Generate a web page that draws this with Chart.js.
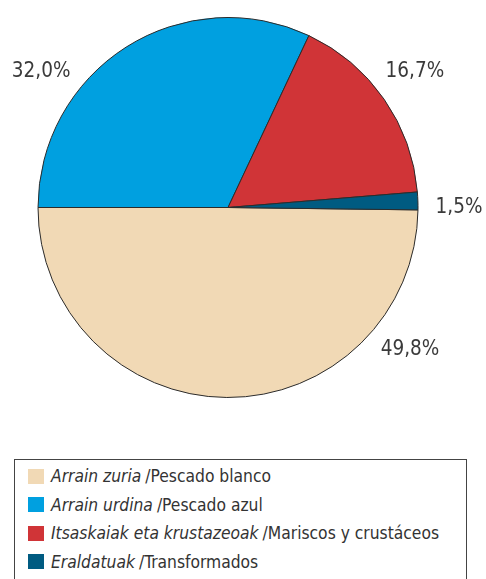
<!DOCTYPE html>
<html>
<head>
<meta charset="utf-8">
<script src="https://cdn.jsdelivr.net/npm/chart.js@4/dist/chart.umd.min.js"></script>
<style>
  html, body { margin: 0; padding: 0; background: #fff; }
  body { width: 486px; height: 579px; position: relative; overflow: hidden; }
  #chartBox { position: absolute; left: 0; top: 0; width: 486px; height: 440px; }
  #legend {
    position: absolute; left: 14px; top: 459px; width: 453px; height: 140px;
    border: 1px solid #444; box-sizing: border-box; padding: 2px 0 0 13px;
    font-family: "Liberation Sans Narrow", "DejaVu Sans Condensed", "Roboto", sans-serif;
    font-size: 17.3px; color: #333;
  }
  #legend .row { height: 28.5px; display: flex; align-items: center; white-space: nowrap; }
  #legend .sw { width: 16px; height: 15px; margin-right: 7px; flex: none; }
  #legend i { margin-right: 4px; }
</style>
</head>
<body>
<div id="chartBox"><canvas id="pie"></canvas></div>
<div id="legend"></div>
<script>
  const namesEu = ["Arrain zuria", "Arrain urdina", "Itsaskaiak eta krustazeoak", "Eraldatuak"];
  const namesEs = ["Pescado blanco", "Pescado azul", "Mariscos y crustáceos", "Transformados"];
  const shares = [49.8, 32.0, 16.7, 1.5];

  const colors = {
    white: "#f1d9b5",
    blue: "#00a0e0",
    red: "#d03437",
    dark: "#005b81"
  };

  // outside labels: angle (deg, clockwise from top) where each value sits
  const pctLabels = {
    id: "pctLabels",
    afterDatasetsDraw(chart, args, opts) {
      const ctx = chart.ctx;
      const arcs = chart.getDatasetMeta(0).data;
      ctx.save();
      ctx.font = opts.font;
      ctx.fillStyle = opts.color;
      ctx.textAlign = "center";
      ctx.textBaseline = "middle";
      arcs.forEach((arc, i) => {
        const a = opts.angles[i] * Math.PI / 180;
        const d = arc.outerRadius + opts.gap;
        const x = arc.x + d * Math.sin(a);
        const y = arc.y - d * Math.cos(a);
        const txt = chart.data.datasets[0].data[i].toFixed(1).replace(".", ",") + "%";
        ctx.fillText(txt, x, y);
      });
      ctx.restore();
    }
  };

  const chart = new Chart(document.getElementById("pie"), {
    type: "pie",
    data: {
      labels: namesEs,
      datasets: [{
        data: shares,
        backgroundColor: [colors.white, colors.blue, colors.red, colors.dark],
        borderColor: "#2b2b2b",
        borderWidth: 1
      }]
    },
    options: {
      responsive: true,
      maintainAspectRatio: false,
      animation: false,
      rotation: 90 + (50 - shares[0]) * 3.6,
      layout: { padding: { left: 37, right: 67, top: 17, bottom: 42 } },
      plugins: {
        legend: { display: false },
        tooltip: { enabled: false },
        pctLabels: {
          angles: [128, -54, 54, 90],
          gap: 41,
          color: "#3a3a3a",
          font: '20.5px "Liberation Sans Narrow", "DejaVu Sans Condensed", sans-serif'
        }
      }
    },
    plugins: [pctLabels]
  });

  // legend: Basque name in italics, Spanish name upright
  const legend = document.getElementById("legend");
  chart.data.labels.forEach((es, i) => {
    const row = document.createElement("div");
    row.className = "row";
    const sw = document.createElement("span");
    sw.className = "sw";
    sw.style.background = chart.data.datasets[0].backgroundColor[i];
    const eu = document.createElement("i");
    eu.textContent = namesEu[i];
    row.appendChild(sw);
    row.appendChild(eu);
    row.appendChild(document.createTextNode("/" + es));
    legend.appendChild(row);
  });
</script>
</body>
</html>
